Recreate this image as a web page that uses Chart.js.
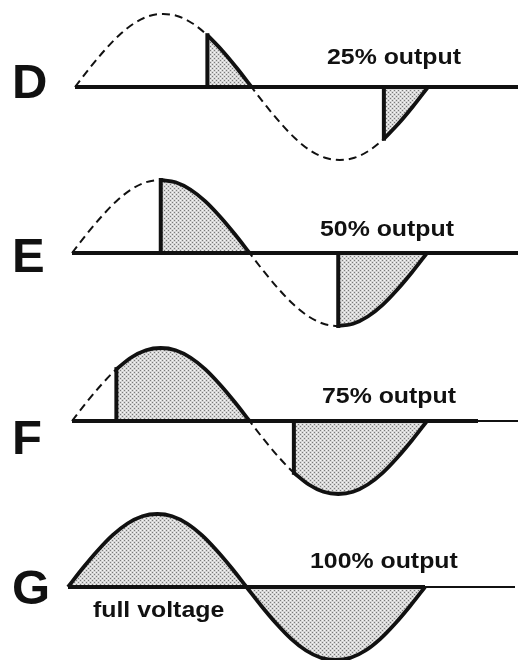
<!DOCTYPE html>
<html><head><meta charset="utf-8">
<script src="https://cdn.jsdelivr.net/npm/chart.js@4/dist/chart.umd.min.js"></script>
<style>
html,body{margin:0;padding:0;background:#fff;}
#wrap{position:relative;width:529px;height:660px;overflow:hidden;background:#fff;}
canvas{position:absolute;left:0;}
</style></head><body>
<div id="wrap"></div>
<script>
// ---- DATA ----
const panelLetters = ['D', 'E', 'F', 'G'];
const outputLabels = ['25% output', '50% output', '75% output', '100% output'];
const firingAngles = [135, 90, 45, 0];           // degrees into each half-cycle where conduction starts
const phaseAngles = [0, 15, 30, 45, 60, 75, 90, 105, 120, 135, 150, 165, 180,
                     195, 210, 225, 240, 255, 270, 285, 300, 315, 330, 345, 360];
const voltage = [0, 0.26, 0.5, 0.71, 0.87, 0.97, 1, 0.97, 0.87, 0.71, 0.5, 0.26, 0,
                 -0.26, -0.5, -0.71, -0.87, -0.97, -1, -0.97, -0.87, -0.71, -0.5, -0.26, 0];
const noteLabel = 'full voltage';

// ---- LAYOUT / STYLE ----
const W = 529;
const layout = [
  {top: 0,   h: 166, x0: 75, x360: 428, lineEnd: 518, thickEnd: 518, letterBase: 98,  labelX: 327, labelBase: 64},
  {top: 166, h: 168, x0: 72, x360: 427, lineEnd: 518, thickEnd: 518, letterBase: 106, labelX: 320, labelBase: 70},
  {top: 334, h: 166, x0: 72, x360: 427, lineEnd: 518, thickEnd: 478, letterBase: 120, labelX: 322, labelBase: 69},
  {top: 500, h: 160, x0: 68, x360: 425, lineEnd: 515, thickEnd: 425, letterBase: 104, labelX: 310, labelBase: 68}
];
const BASE_PX = 87, AMP_PX = 73;
const INK = '#111';

function makePattern() {
  const c = document.createElement('canvas');
  c.width = 4; c.height = 4;
  const g = c.getContext('2d');
  g.fillStyle = '#d6d6d6'; g.fillRect(0, 0, 4, 4);
  g.fillStyle = '#7a7a7a';
  g.fillRect(0, 0, 1, 1); g.fillRect(2, 2, 1, 1);
  g.fillStyle = '#f6f6f6';
  g.fillRect(2, 0, 1, 1); g.fillRect(0, 2, 1, 1);
  return g.createPattern(c, 'repeat');
}

function vAt(a) { return voltage[phaseAngles.indexOf(a)]; }

const wrap = document.getElementById('wrap');

panelLetters.forEach((letter, i) => {
  const L = layout[i];
  const cv = document.createElement('canvas');
  cv.width = W; cv.height = L.h;
  cv.style.top = L.top + 'px';
  cv.style.width = W + 'px'; cv.style.height = L.h + 'px';
  wrap.appendChild(cv);
  const ctx = cv.getContext('2d');
  const pattern = makePattern();
  const pxPerDeg = (L.x360 - L.x0) / 360;
  const toDeg = px => (px - L.x0) / pxPerDeg;
  const alpha = firingAngles[i];

  const datasets = [];
  const lineBase = {pointRadius: 0, borderColor: INK, fill: false, clip: false, tension: 0};
  // baseline (on top)
  datasets.push({...lineBase, data: [{x: 0, y: 0}, {x: toDeg(L.thickEnd), y: 0}], borderWidth: 4});
  datasets.push({...lineBase, data: [{x: 0, y: 0}, {x: toDeg(L.lineEnd), y: 0}], borderWidth: 1.8});
  // conduction parts
  [0, 180].forEach(h => {
    const start = h + alpha;
    if (alpha > 0) {
      datasets.push({...lineBase, data: [{x: start, y: 0}, {x: start, y: vAt(start)}],
        borderWidth: 4, borderCapStyle: 'square'});
    }
    const pts = [];
    phaseAngles.forEach((a, k) => { if (a >= start && a <= h + 180) pts.push({x: a, y: voltage[k]}); });
    datasets.push({...lineBase, data: pts, borderWidth: 3.8, cubicInterpolationMode: 'monotone',
      fill: 'origin', backgroundColor: pattern, borderJoinStyle: 'round'});
  });
  // dashed full wave (underneath)
  if (alpha > 0) {
    datasets.push({...lineBase, data: phaseAngles.map((a, k) => ({x: a, y: voltage[k]})),
      borderWidth: 2, borderDash: [8, 5], cubicInterpolationMode: 'monotone'});
  }

  const textPlugin = {
    id: 'txt' + i,
    afterDraw(chart) {
      const c = chart.ctx;
      c.save();
      c.fillStyle = INK;
      c.textBaseline = 'alphabetic';
      c.textAlign = 'left';
      c.font = 'bold 49px "Liberation Sans", Arial, sans-serif';
      c.fillText(letter, 12, L.letterBase);
      c.font = 'bold 22px "Liberation Sans", Arial, sans-serif';
      c.save();
      c.translate(L.labelX, L.labelBase);
      c.scale(1.13, 1);
      c.fillText(outputLabels[i], 0, 0);
      c.restore();
      if (alpha === 0) {
        c.save();
        c.translate(93, 117);
        c.scale(1.13, 1);
        c.fillText(noteLabel, 0, 0);
        c.restore();
      }
      c.restore();
    }
  };

  new Chart(ctx, {
    type: 'line',
    data: {datasets},
    options: {
      responsive: false, animation: false, devicePixelRatio: 1,
      layout: {padding: 0},
      plugins: {legend: {display: false}, tooltip: {enabled: false}},
      scales: {
        x: {type: 'linear', display: false, min: toDeg(0), max: toDeg(W)},
        y: {type: 'linear', display: false, min: -(L.h - BASE_PX) / AMP_PX, max: BASE_PX / AMP_PX}
      }
    },
    plugins: [textPlugin]
  });
});
</script>
</body></html>
